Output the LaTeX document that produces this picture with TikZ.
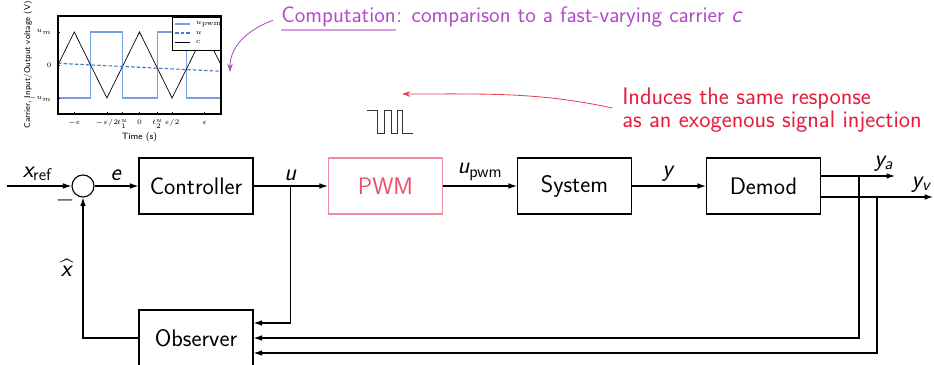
\documentclass[tikz,border=0pt]{standalone}
\usepackage{amsmath,amssymb}
\usetikzlibrary{arrows.meta,calc}

\renewcommand{\familydefault}{\sfdefault}
\DeclareMathAlphabet{\mathsfit}{OT1}{cmss}{m}{sl}
\newcommand{\sv}[1]{\mathsfit{#1}}

\definecolor{notepurple}{RGB}{176,75,200}
\definecolor{notered}{RGB}{232,28,58}
\definecolor{pwmred}{RGB}{236,80,102}
\definecolor{pwmedge}{RGB}{242,140,155}
\definecolor{pwmblue}{RGB}{118,160,222}
\definecolor{inblue}{RGB}{72,122,205}

\tikzset{
  block/.style={draw, line width=0.8pt, minimum width=2.85cm, minimum height=1.4cm},
  sumpoint/.style={draw, circle, line width=0.8pt, minimum size=0.55cm, inner sep=0pt},
  sig/.style={line width=0.8pt, -{Latex[length=6pt,width=4pt]}},
  plotfont/.style={font=\fontsize{6.5}{7.5}\selectfont},
  tickfont/.style={font=\fontsize{5.5}{6.5}\selectfont},
}

\begin{document}
\begin{tikzpicture}[x=0.025cm, y=0.025cm, font=\fontsize{17}{20}\selectfont]
\useasboundingbox (0,0) rectangle (934,365);

% blocks of the loop
\node[block] (ctrl) at (196,179) {Controller};
\node[block, draw=pwmedge, text=pwmred] (pwm) at (385.5,179) {PWM};
\node[block] (sys) at (574.5,179) {System};
\node[block] (demod) at (763.5,179) {Demod};
\node[block] (obs) at (196,27) {Observer};
\node[sumpoint] (sum) at (83,179) {};
\node at (65,165) {$-$};

% forward path
\coordinate (ref) at (7,179);
\draw[sig] (ref) -- node[above, pos=0.48] {$\sv{x}_{\mathsf{ref}}$} (sum);
\draw[sig] (sum) -- node[above] {$\sv{e}$} (ctrl);
\draw[sig] (ctrl) -- node[above] {$\sv{u}$} (pwm);
\draw[sig] (pwm) -- node[above] {$\sv{u}_{\mathsf{pwm}}$} (sys);
\draw[sig] (sys) -- node[above] {$\sv{y}$} (demod);

% measured outputs
\coordinate (ya) at (895,189);
\coordinate (yv) at (933,168);
\draw[sig] ($(demod.east)+(0,10)$) -- node[above, pos=0.85] {$\sv{y}_{\sv{a}}$} (ya);
\draw[sig] ($(demod.east)+(0,-11)$) -- node[above, pos=0.9] {$\sv{y}_{\sv{v}}$} (yv);

% feedback to the observer
\coordinate (ubr) at ($(ctrl.east)!0.5!(pwm.west)$);
\coordinate (yabr) at (859,189);
\coordinate (yvbr) at (877,168);
\draw[sig] (ubr) |- ($(obs.east)+(0,15)$);
\draw[sig] (yabr) |- (obs.east);
\draw[sig] (yvbr) |- ($(obs.east)+(0,-15)$);
\draw[sig] (obs.west) -| node[left=3pt, pos=0.75] {$\widehat{\sv{x}}$} (sum.south);

% note on the PWM computation
\node[anchor=base west, inner sep=0pt, text=notepurple, font=\fontsize{16}{19}\selectfont] (comp) at (281,342) {Computation};
\node[anchor=base west, inner sep=0pt, text=notepurple, font=\fontsize{16}{19}\selectfont] (compnote) at (comp.base east) {: comparison to a fast-varying carrier $\sv{c}$};
\draw[notepurple!55, line width=1.5pt] ([yshift=-5pt]comp.base west) -- ([yshift=-5pt]comp.base east);
\coordinate (cmptip) at (230,293);
\draw[notepurple, line width=0.6pt, -{Stealth[length=6pt,width=4pt]}, shorten <=6pt] (comp.west) to[out=200, in=90] (cmptip);

% pulse train and the injection note
\draw[line width=0.6pt, black!80] (367,255) -- (377,255) -- (377,232) -- (384,232) -- (384,255) -- (391,255) -- (391,232) -- (397,232) -- (397,255) -- (402,255) -- (402,232) -- (413,232);
\node[anchor=west, inner sep=0pt, align=left, text=notered, font=\fontsize{17}{15}\selectfont] (induce) at (622,255) {Induces the same response\\as an exogenous signal injection};
\coordinate (injtip) at (402,271);
\draw[notered!85, line width=0.6pt, -{Stealth[length=6pt,width=4pt]}, shorten <=7pt] (induce.west) to[out=168, in=0] (injtip);

% carrier, input and PWM output over one period
\begin{scope}[shift={(139.5,300)}, x=1.63cm, y=0.825cm]
\draw[pwmblue, line width=0.8pt] (-1.25,1) -- (-1.238,1) -- (-1.238,-1) -- (-0.75,-1) -- (-0.75,1) -- (-0.261,1) -- (-0.261,-1) -- (0.274,-1) -- (0.274,1) -- (0.715,1) -- (0.715,-1) -- (1.25,-1);
\draw[line width=0.5pt] (-1.25,0) -- (-1,1) -- (-0.5,-1) -- (0,1) -- (0.5,-1) -- (1,1) -- (1.25,0);
\draw[inblue, line width=0.8pt, dash pattern=on 2.5pt off 1.5pt] (-1.25,0.05) -- (1.25,-0.19);
\draw[line width=0.8pt] (-1.25,-1.485) rectangle (1.25,1.485);
% ticks
\foreach \t/\lab in {-1/{-\varepsilon}, -0.5/{-\varepsilon/2}, -0.261/{t_1^u}, 0/{0}, 0.274/{t_2^u}, 0.5/{\varepsilon/2}, 1/{\varepsilon}}
  \draw[line width=0.4pt] (\t,-1.485) -- (\t,-1.42) node[tickfont, anchor=mid] at (\t,-1.72) {$\lab$};
\foreach \v/\lab in {1/{u_m}, 0/{0}, -1/{-u_m}}
  \draw[line width=0.4pt] (-1.25,\v) -- (-1.22,\v) node[tickfont, left=1pt] at (-1.25,\v) {$\lab$};
\node[plotfont] at (0,-2.2) {Time (s)};
\node[plotfont, font=\fontsize{6}{7}\selectfont, rotate=90] at (-1.71,0) {Carrier, Input/Output voltage (V)};
% legend
\draw[fill=white, line width=0.6pt] (0.5,0.455) rectangle (1.235,1.455);
\draw[pwmblue, line width=0.8pt] (0.545,1.24) -- (0.775,1.24) node[tickfont, black, right=0.5pt] {$u_{\mathrm{pwm}}$};
\draw[inblue, line width=0.8pt, dash pattern=on 2.5pt off 1.5pt] (0.545,0.97) -- (0.775,0.97) node[tickfont, black, right=0.5pt] {$u$};
\draw[line width=0.5pt] (0.545,0.70) -- (0.775,0.70) node[tickfont, right=0.5pt] {$c$};
\end{scope}

\end{tikzpicture}
\end{document}
